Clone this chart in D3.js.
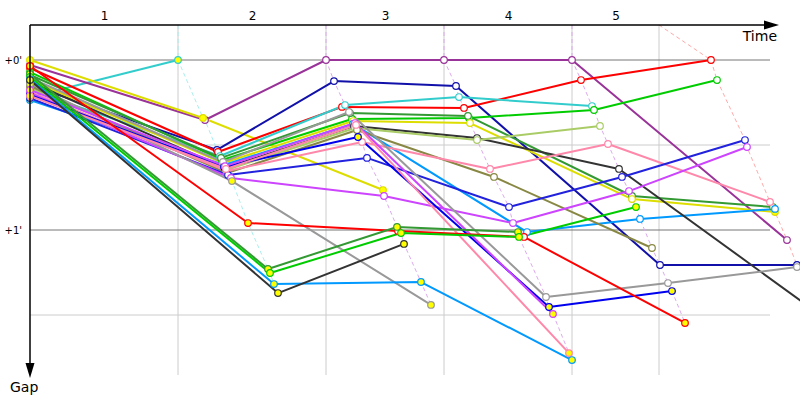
<!DOCTYPE html>
<html><head><meta charset="utf-8">
<script src="https://cdn.jsdelivr.net/npm/d3@7"></script>
<style>body{margin:0;background:#fff}svg{display:block}</style>
</head><body><svg id="c" width="800" height="400"></svg>
<script>
// ---- data ----
const lapLabels = ["1","2","3","4","5"];
const lapStarts = [0,148,296,414,542,629];      // leader lap marks (time)
const lapLineColors = ["#aaeeee","#ddaaee","#ddaaee","#ddaaee","#ffaaaa"];
const gapTicks = [0,1];
const gapTickLabels = ["+0'","+1'"];
const gapMinor = [0.5,1.5];

const carColors = ["#33cccc","#993399","#dddd00","#1111aa","#ff0000","#33cccc","#00cc00","#339933","#dddd00","#0099ff",
  "#333333","#aacc66","#888844","#ff88aa","#2222dd","#cc44ff","#999999","#999999","#0000ee","#cc44ff",
  "#ff88aa","#ff0000","#339933","#00cc00","#0099ff","#333333"];
const carTimes = [
  [0,148],
  [0,175,296,414,542,757],
  [0,173,353],
  [0,187,304,426,630,767],
  [0,188,312,434,551,681],
  [0,190,315,429,562],
  [0,192,322,439,564,687],
  [0,191,320,438,602,743],
  [0,193,323,440,602,745],
  [0,194,323,497,610,745],
  [0,195,324,447,589,800],
  [0,196,325,447,570],
  [0,197,327,464,622],
  [0,197,332,460,578,740],
  [0,198,337,479,592,715],
  [0,201,354,483,599,717],
  [0,193,319,516,638,767],
  [0,202,401],
  [0,194,328,519,642],
  [0,195,325,523],
  [0,196,326,539],
  [0,218,368,494,655],
  [0,238,367,488],
  [0,240,371,489,606],
  [0,244,391,542],
  [0,248,374]
];
const carGaps = [
  [.218,0],
  [.029,.353,0,0,0,1.059],
  [0,.341,.765],
  [.147,.529,.124,.153,1.206,1.206],
  [.047,.541,.276,.282,.118,0],
  [.176,.565,.265,.218,.271],
  [.071,.588,.347,.341,.294,.118],
  [.088,.576,.312,.329,.8,.865],
  [.118,.606,.359,.371,.818,.894],
  [.235,.618,.376,1.012,.935,.876],
  [.129,.635,.388,.459,.641,1.541],
  [.165,.647,.4,.471,.388],
  [.153,.665,.412,.688,1.106],
  [.188,.653,.482,.641,.494,.835],
  [.224,.676,.576,.865,.688,.471],
  [.194,.694,.8,.959,.771,.512],
  [.106,.6,.306,1.394,1.312,1.218],
  [.141,.712,1.441],
  [.206,.629,.453,1.453,1.359],
  [.176,.624,.371,1.494],
  [.212,.641,.382,1.724],
  [.035,.959,1.006,1.041,1.547],
  [.082,1.229,.982,1.012],
  [.1,1.253,1.018,1.041,.865],
  [.112,1.318,1.306,1.765],
  [.118,1.371,1.082]
];
// indices of points drawn with a yellow marker (pit / special)
const yellowMarks = [
  [0,1],[0],[0,1,2],[0],[0],[0],[0],[0],[0,5],[0],
  [0],[0],[0],[0],[0],[0],[0],[0,1,2],[0,1,2,3,4],[0,3],
  [0,3],[0,1,4],[0,1,2,3],[0,1,2,3,4],[0,1,2,3],[0,1,2]
];

// ---- drawing ----
const svg = d3.select("#c");
const x = d3.scaleLinear().domain([0,770]).range([30,800]);
const y = d3.scaleLinear().domain([0,1]).range([60,230]);
const topY = 25, leftX = 30, gridRight = 770;

const defs = svg.append("defs");
defs.append("clipPath").attr("id","clip").append("rect").attr("x",0).attr("y",topY).attr("width",800).attr("height",360);

// grid
const g = svg.append("g");
g.selectAll(".vg").data(lapStarts.slice(1)).join("line")
  .attr("x1",d=>x(d)).attr("x2",d=>x(d)).attr("y1",topY).attr("y2",375)
  .attr("stroke","#cccccc").attr("stroke-width",1);
g.selectAll(".hm").data(gapMinor).join("line")
  .attr("x1",leftX).attr("x2",gridRight).attr("y1",d=>y(d)).attr("y2",d=>y(d))
  .attr("stroke","#cccccc").attr("stroke-width",1);
g.selectAll(".hM").data(gapTicks).join("line")
  .attr("x1",leftX).attr("x2",gridRight).attr("y1",d=>y(d)).attr("y2",d=>y(d))
  .attr("stroke","#777777").attr("stroke-width",1);

// lap lines (dashed)
const plot = svg.append("g").attr("clip-path","url(#clip)");
const lineGen = d3.line().x(d=>x(d[0])).y(d=>y(d[1]));
for (let k=1;k<=5;k++){
  const pts=[];
  carTimes.forEach((ts,i)=>{ if(ts.length>k) pts.push([ts[k],carGaps[i][k]]); });
  pts.sort((a,b)=>a[1]-b[1]);
  pts.unshift([lapStarts[k], y.invert(topY)]);
  plot.append("path").attr("d",lineGen(pts)).attr("fill","none")
    .attr("stroke",lapLineColors[k-1]).attr("stroke-width",1).attr("stroke-dasharray","4,3");
}

// car lines
carTimes.forEach((ts,i)=>{
  const pts = ts.map((t,j)=>[t,carGaps[i][j]]);
  plot.append("path").attr("d",lineGen(pts)).attr("fill","none")
    .attr("stroke",carColors[i]).attr("stroke-width",2).attr("stroke-linejoin","round");
});
// markers
carTimes.forEach((ts,i)=>{
  const pts = ts.map((t,j)=>({t,gap:carGaps[i][j],yel:yellowMarks[i].includes(j)}));
  plot.selectAll(null).data(pts).join("circle")
    .attr("cx",d=>x(d.t)).attr("cy",d=>y(d.gap)).attr("r",3.3)
    .attr("fill",d=>d.yel?"#ffff00":"#ffffff")
    .attr("stroke",carColors[i]).attr("stroke-width",1.2);
});

// axes
const axisX = d3.axisTop(x).tickValues(lapStarts.slice(0,5).map((d,i)=>(d+lapStarts[i+1])/2))
  .tickFormat((d,i)=>lapLabels[i]).tickSize(0).tickPadding(4);
const ax = svg.append("g").attr("transform",`translate(0,${topY})`).call(axisX);
ax.select(".domain").remove();
ax.selectAll("text").attr("font-family","DejaVu Sans, sans-serif").attr("font-size",12).attr("fill","#000").attr("dy","-0.1em");

const axisY = d3.axisLeft(y).tickValues(gapTicks).tickFormat((d,i)=>gapTickLabels[i]).tickSize(0).tickPadding(8);
const ay = svg.append("g").attr("transform",`translate(${leftX},0)`).call(axisY);
ay.select(".domain").remove();
ay.selectAll("text").attr("font-family","DejaVu Sans, sans-serif").attr("font-size",10).attr("fill","#000");

svg.append("line").attr("x1",leftX).attr("x2",768).attr("y1",topY).attr("y2",topY).attr("stroke","#000").attr("stroke-width",1.5);
svg.append("path").attr("d","M764,20.5 L779,25 L764,29.5 Z").attr("fill","#000");
svg.append("line").attr("x1",leftX).attr("x2",leftX).attr("y1",topY).attr("y2",368).attr("stroke","#000").attr("stroke-width",1.5);
svg.append("path").attr("d","M25.5,363 L30,378 L34.5,363 Z").attr("fill","#000");

svg.append("text").attr("x",777).attr("y",41).attr("text-anchor","end")
  .attr("font-family","DejaVu Sans, sans-serif").attr("font-size",14).text("Time");
svg.append("text").attr("x",10).attr("y",392)
  .attr("font-family","DejaVu Sans, sans-serif").attr("font-size",14).text("Gap");
</script></body></html>
